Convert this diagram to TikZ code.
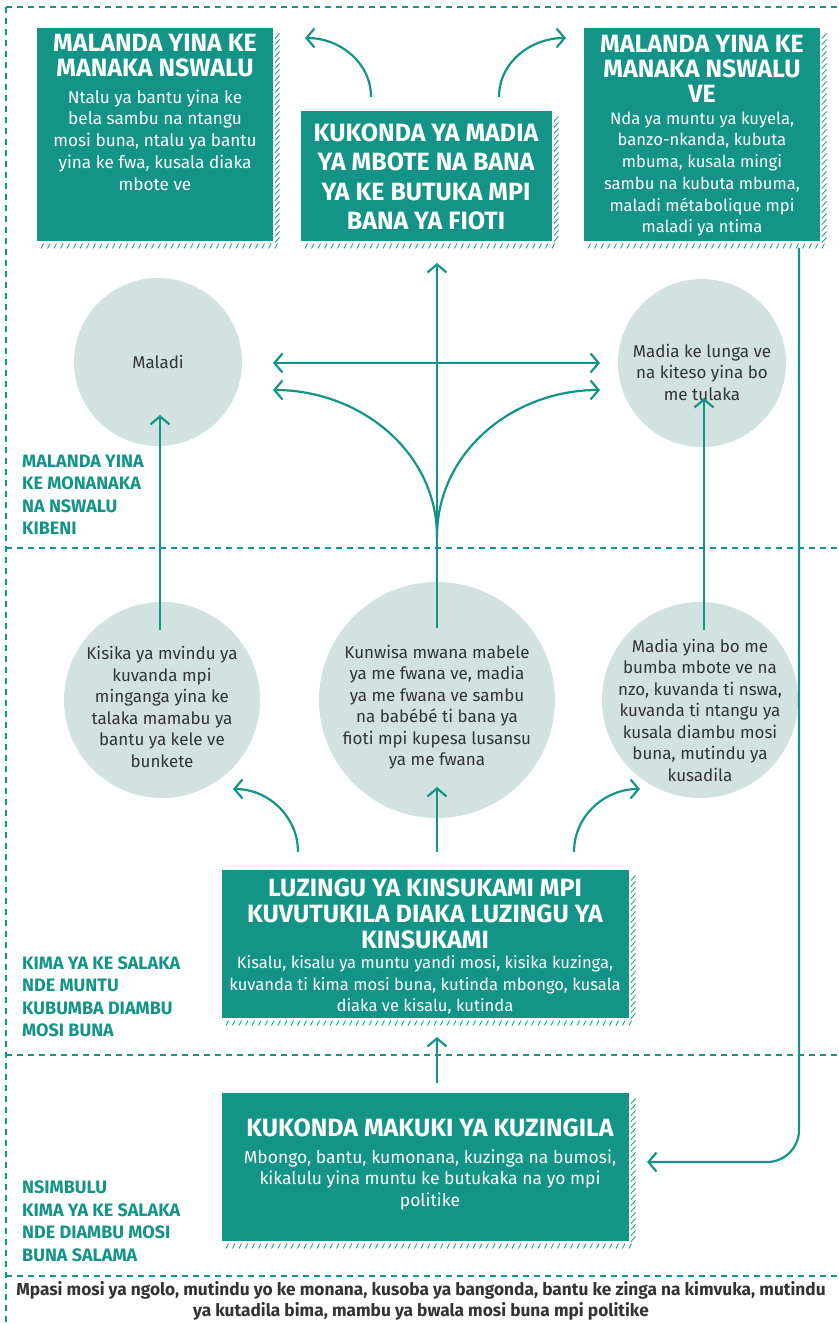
\documentclass[tikz,border=0pt]{standalone}
\usepackage{fontspec}
\setmainfont{Fira Sans}
\usetikzlibrary{arrows.meta}
\definecolor{teal}{HTML}{139486}
\definecolor{circ}{HTML}{D1E2E0}
\definecolor{dark}{HTML}{333333}
\tikzset{
  box/.style={draw=none,fill=teal,inner sep=0pt,anchor=north west},
  bubble/.style={circle,fill=circ,inner sep=0pt},
  ttl/.style={text=white,font=\bfseries\fontsize{25}{25}\selectfont,align=center,inner sep=0pt},
  ttlb/.style={text=white,font=\bfseries\fontsize{25}{26}\selectfont,align=center,inner sep=0pt},
  bdy/.style={text=white,font=\fontsize{16.6}{21.7}\selectfont,align=center,inner sep=0pt},
  ctx/.style={text=dark,font=\fontsize{17}{21.5}\selectfont,align=center,inner sep=0pt},
  lbl/.style={text=teal,font=\bfseries\fontsize{18}{22.5}\selectfont,align=left,anchor=west,inner sep=0pt},
  sep/.style={draw=teal,line width=1.6pt,dash pattern=on 6pt off 5pt},
  arr/.style={draw=teal,line width=2.2pt,-{Straight Barb[length=8pt,width=19pt,line width=2.2pt]}},
  darr/.style={draw=teal,line width=2.2pt,{Straight Barb[length=8pt,width=19pt,line width=2.2pt]}-{Straight Barb[length=8pt,width=19pt,line width=2.2pt]}},
  hatchline/.style={draw=teal,line width=0.8pt}
}
\newcommand\hatchbox[4]{%
  \pgfmathsetmacro\hxa{#1+4}\pgfmathsetmacro\hxb{#1+10.5}\pgfmathsetmacro\hxe{#3+4}%
  \foreach \x in {\hxa,\hxb,...,\hxe} {\draw[hatchline] (\x,#4+7.5) -- (\x+2.5,#4+2.5);}%
  \pgfmathsetmacro\hya{#2+8}\pgfmathsetmacro\hyb{#2+14}\pgfmathsetmacro\hye{#4+2}%
  \foreach \y in {\hya,\hyb,...,\hye} {\draw[hatchline] (#3+2,\y+2.5) -- (#3+6.5,\y-2.5);}%
}
\begin{document}
\begin{tikzpicture}[x=1pt,y=-1pt]
\useasboundingbox (0,0) rectangle (838,1324);
% frame
\draw[sep] (6,7) -- (838,7);
\draw[sep] (6,7) -- (6,1324);
\draw[sep] (6,548) -- (838,548);
\draw[sep] (6,1055) -- (838,1055);
\draw[sep] (6,1276) -- (838,1276);

% boxes
\hatchbox{37}{28}{273}{241}
\node[box,minimum width=236pt,minimum height=213pt] (tl) at (37,28) {};
\hatchbox{301}{111}{552}{241}
\node[box,minimum width=251pt,minimum height=130pt] (tm) at (301,111) {};
\hatchbox{584}{28}{820}{241}
\node[box,minimum width=236pt,minimum height=213pt] (tr) at (584,28) {};
\hatchbox{222}{870}{629}{1018}
\node[box,minimum width=407pt,minimum height=148pt] (mb) at (222,870) {};
\hatchbox{222}{1093}{629}{1241}
\node[box,minimum width=407pt,minimum height=148pt] (bb) at (222,1093) {};

\node[ttl] (tlT) at (155,56) {MALANDA YINA KE\\MANAKA NSWALU};
\node[bdy,font=\fontsize{17.2}{21.8}\selectfont] (tlB) at (155,140) {Ntalu ya bantu yina ke\\bela sambu na ntangu\\mosi buna, ntalu ya bantu\\yina ke fwa, kusala diaka\\mbote ve};
\node[ttl,font=\bfseries\fontsize{25}{29.5}\selectfont] (tmT) at (426,177) {KUKONDA YA MADIA\\YA MBOTE NA BANA\\YA KE BUTUKA MPI\\BANA YA FIOTI};
\node[ttl] (trT) at (702,69) {MALANDA YINA KE\\MANAKA NSWALU\\VE};
\node[bdy] (trB) at (702,174) {Nda ya muntu ya kuyela,\\banzo-nkanda, kubuta\\mbuma, kusala mingi\\sambu na kubuta mbuma,\\maladi métabolique mpi\\maladi ya ntima};
\node[ttlb] (mbT) at (425,914) {LUZINGU YA KINSUKAMI MPI\\KUVUTUKILA DIAKA LUZINGU YA\\KINSUKAMI};
\node[bdy] (mbB) at (425,985) {Kisalu, kisalu ya muntu yandi mosi, kisika kuzinga,\\kuvanda ti kima mosi buna, kutinda mbongo, kusala\\diaka ve kisalu, kutinda};
\node[ttlb] (bbT) at (430,1128) {KUKONDA MAKUKI YA KUZINGILA};
\node[bdy,font=\fontsize{17.5}{21.5}\selectfont] (bbB) at (430,1180) {Mbongo, bantu, kumonana, kuzinga na bumosi,\\kikalulu yina muntu ke butukaka na yo mpi\\politike};

% circles
\node[bubble,minimum size=168pt] (c1) at (158,362) {};
\node[ctx] (c1t) at (158,362) {Maladi};
\node[bubble,minimum size=168pt] (c2) at (702,363) {};
\node[ctx] (c2t) at (702,372) {Madia ke lunga ve\\na kiteso yina bo\\me tulaka};
\node[bubble,minimum size=196pt] (c3) at (162,700) {};
\node[ctx] (c3t) at (162,707) {Kisika ya mvindu ya\\kuvanda mpi\\minganga yina ke\\talaka mamabu ya\\bantu ya kele ve\\bunkete};
\node[bubble,minimum size=236pt] (c4) at (437,700) {};
\node[ctx] (c4t) at (437,707) {Kunwisa mwana mabele\\ya me fwana ve, madia\\ya me fwana ve sambu\\na babébé ti bana ya\\fioti mpi kupesa lusansu\\ya me fwana};
\node[bubble,minimum size=196pt] (c5) at (700,700) {};
\node[ctx] (c5t) at (700,710) {Madia yina bo me\\bumba mbote ve na\\nzo, kuvanda ti nswa,\\kuvanda ti ntangu ya\\kusala diambu mosi\\buna, mutindu ya\\kusadila};

% side labels
\node[lbl] (l1) at (22,495) {MALANDA YINA\\KE MONANAKA\\NA NSWALU\\KIBENI};
\node[lbl] (l2) at (22,997) {KIMA YA KE SALAKA\\NDE MUNTU\\KUBUMBA DIAMBU\\MOSI BUNA};
\node[lbl] (l3) at (22,1221) {NSIMBULU\\KIMA YA KE SALAKA\\NDE DIAMBU MOSI\\BUNA SALAMA};
\node[text=dark,font=\bfseries\fontsize{17.3}{21}\selectfont,align=center,inner sep=0pt] (bot) at (421,1301) {Mpasi mosi ya ngolo, mutindu yo ke monana, kusoba ya bangonda, bantu ke zinga na kimvuka, mutindu\\ya kutadila bima, mambu ya bwala mosi buna mpi politike};

% connector coordinates
\coordinate (tmL) at (371,97);
\coordinate (tlIn) at (305,38);
\coordinate (tmR) at (499,97);
\coordinate (trIn) at (566,38);
\coordinate (c4top) at (437,628);
\coordinate (tmIn) at (437,263);
\coordinate (c1In) at (273,363);
\coordinate (c2In) at (600,363);
\coordinate (fork) at (437,537);
\coordinate (c1In2) at (273,390);
\coordinate (c2In2) at (600,390);
\coordinate (c3top) at (160,630);
\coordinate (c1bot) at (160,415);
\coordinate (c5top) at (704,630);
\coordinate (c2bot) at (704,398);
\coordinate (mbL) at (298,852);
\coordinate (c3In) at (233,789);
\coordinate (mbR) at (574,852);
\coordinate (c5In) at (640,789);
\coordinate (mbM) at (437,852);
\coordinate (c4In) at (437,787);
\coordinate (bbM) at (437,1083);
\coordinate (mbIn) at (437,1037);
\coordinate (trOut) at (799,248);
\coordinate (bbIn) at (647,1162);

% connectors
\draw[arr] (tmL) to[out=90,in=0] (tlIn);
\draw[arr] (tmR) to[out=90,in=180] (trIn);
\draw[arr] (c4top) -- (tmIn);
\draw[darr] (c1In) -- (c2In);
\draw[arr] (fork) to[out=90,in=0] (c1In2);
\draw[arr] (fork) to[out=90,in=180] (c2In2);
\draw[arr] (c3top) -- (c1bot);
\draw[arr] (c5top) -- (c2bot);
\draw[arr] (mbL) to[out=90,in=0] (c3In);
\draw[arr] (mbR) to[out=90,in=180] (c5In);
\draw[arr] (mbM) -- (c4In);
\draw[arr] (bbM) -- (mbIn);
\draw[arr,rounded corners=32pt] (trOut) |- (bbIn);
\end{tikzpicture}
\end{document}
